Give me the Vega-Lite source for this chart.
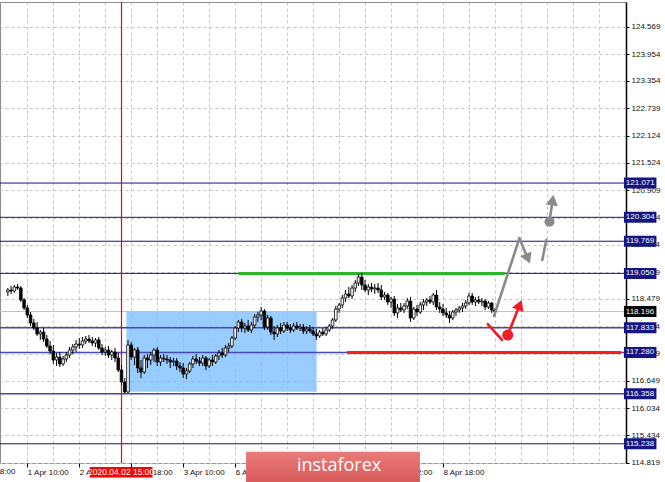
{
"$schema": "https://vega.github.io/schema/vega-lite/v6.json",
"width": 626, "height": 461,
"autosize": {"type": "none"},
"padding": {"left": 0, "top": 2, "right": 39, "bottom": 19},
"background": "white",
"config": {"view": {"stroke": "#8c8c8c", "strokeWidth": 1}, "text": {"font": "Liberation Sans"},
 "axisX": {"orient": "bottom", "title": null,
  "grid": true, "gridColor": "#c4c4c4", "gridDash": [3,3], "gridWidth": 1, "domain": false,
  "tickSize": 4, "tickColor": "#000",
  "labelAlign": "left", "labelBaseline": "top", "labelPadding": 1, "labelFlush": false, "labelOverlap": false,
  "labelFont": "Liberation Sans", "labelFontSize": 8, "labelColor": "#111"},
 "axisY": {"orient": "right", "title": null,
  "grid": true, "gridColor": "#c4c4c4", "gridDash": [3,3], "gridWidth": 1,
  "domain": true, "domainColor": "#000", "domainWidth": 1.5, "tickSize": 3, "tickColor": "#000",
  "labelPadding": 2, "labelFlush": false, "labelOverlap": false, "labelBaseline": "middle",
  "labelFont": "Liberation Sans", "labelFontSize": 8, "labelColor": "#111"}
},
"datasets": {
"bars": [
{"i":-6,"o":118.634,"h":118.723,"l":118.544,"c":118.678},
{"i":-5,"o":118.678,"h":118.768,"l":118.589,"c":118.656},
{"i":-4,"o":118.656,"h":118.790,"l":118.611,"c":118.745},
{"i":-3,"o":118.745,"h":118.812,"l":118.678,"c":118.723},
{"i":-2,"o":118.723,"h":118.768,"l":118.410,"c":118.455},
{"i":-1,"o":118.455,"h":118.499,"l":118.231,"c":118.276},
{"i":0,"o":118.276,"h":118.343,"l":118.052,"c":118.119},
{"i":1,"o":118.119,"h":118.186,"l":117.873,"c":117.940},
{"i":2,"o":117.940,"h":118.029,"l":117.783,"c":117.828},
{"i":3,"o":117.828,"h":117.962,"l":117.649,"c":117.694},
{"i":4,"o":117.694,"h":117.783,"l":117.560,"c":117.738},
{"i":5,"o":117.738,"h":117.828,"l":117.515,"c":117.582},
{"i":6,"o":117.582,"h":117.671,"l":117.381,"c":117.425},
{"i":7,"o":117.425,"h":117.537,"l":117.246,"c":117.313},
{"i":8,"o":117.313,"h":117.448,"l":117.023,"c":117.112},
{"i":9,"o":117.112,"h":117.269,"l":116.978,"c":117.179},
{"i":10,"o":117.179,"h":117.291,"l":116.955,"c":117.023},
{"i":11,"o":117.023,"h":117.202,"l":116.978,"c":117.134},
{"i":12,"o":117.134,"h":117.291,"l":117.067,"c":117.224},
{"i":13,"o":117.224,"h":117.403,"l":117.157,"c":117.336},
{"i":14,"o":117.336,"h":117.470,"l":117.246,"c":117.403},
{"i":15,"o":117.403,"h":117.560,"l":117.291,"c":117.470},
{"i":16,"o":117.470,"h":117.604,"l":117.358,"c":117.448},
{"i":17,"o":117.448,"h":117.627,"l":117.381,"c":117.537},
{"i":18,"o":117.537,"h":117.649,"l":117.470,"c":117.582},
{"i":19,"o":117.582,"h":117.671,"l":117.492,"c":117.537},
{"i":20,"o":117.537,"h":117.627,"l":117.425,"c":117.492},
{"i":21,"o":117.492,"h":117.604,"l":117.403,"c":117.560},
{"i":22,"o":117.560,"h":117.627,"l":117.336,"c":117.381},
{"i":23,"o":117.381,"h":117.470,"l":117.224,"c":117.291},
{"i":24,"o":117.291,"h":117.403,"l":117.202,"c":117.336},
{"i":25,"o":117.336,"h":117.425,"l":117.157,"c":117.224},
{"i":26,"o":117.224,"h":117.336,"l":117.112,"c":117.291},
{"i":27,"o":117.291,"h":117.381,"l":117.067,"c":117.157},
{"i":28,"o":117.157,"h":117.269,"l":116.843,"c":116.888},
{"i":29,"o":116.888,"h":117.000,"l":116.552,"c":116.620},
{"i":30,"o":116.620,"h":116.709,"l":116.362,"c":116.396},
{"i":31,"o":116.396,"h":117.560,"l":116.373,"c":117.448},
{"i":32,"o":117.448,"h":117.515,"l":117.112,"c":117.179},
{"i":33,"o":117.179,"h":117.381,"l":117.000,"c":117.336},
{"i":34,"o":117.336,"h":117.403,"l":116.821,"c":116.933},
{"i":35,"o":116.933,"h":117.112,"l":116.709,"c":116.843},
{"i":36,"o":116.843,"h":117.224,"l":116.799,"c":117.157},
{"i":37,"o":117.157,"h":117.246,"l":116.933,"c":117.112},
{"i":38,"o":117.112,"h":117.291,"l":117.000,"c":117.224},
{"i":39,"o":117.224,"h":117.381,"l":117.067,"c":117.336},
{"i":40,"o":117.336,"h":117.403,"l":116.978,"c":117.067},
{"i":41,"o":117.067,"h":117.224,"l":116.978,"c":117.157},
{"i":42,"o":117.157,"h":117.246,"l":117.067,"c":117.134},
{"i":43,"o":117.134,"h":117.224,"l":117.023,"c":117.112},
{"i":44,"o":117.112,"h":117.179,"l":116.933,"c":117.067},
{"i":45,"o":117.067,"h":117.157,"l":116.978,"c":117.090},
{"i":46,"o":117.090,"h":117.157,"l":116.888,"c":116.978},
{"i":47,"o":116.978,"h":117.067,"l":116.843,"c":116.933},
{"i":48,"o":116.933,"h":117.045,"l":116.709,"c":116.799},
{"i":49,"o":116.799,"h":116.933,"l":116.687,"c":116.866},
{"i":50,"o":116.866,"h":117.067,"l":116.821,"c":117.023},
{"i":51,"o":117.023,"h":117.202,"l":116.933,"c":117.134},
{"i":52,"o":117.134,"h":117.246,"l":117.023,"c":117.090},
{"i":53,"o":117.090,"h":117.179,"l":116.978,"c":117.045},
{"i":54,"o":117.045,"h":117.224,"l":116.978,"c":117.157},
{"i":55,"o":117.157,"h":117.202,"l":116.888,"c":116.978},
{"i":56,"o":116.978,"h":117.157,"l":116.933,"c":117.112},
{"i":57,"o":117.112,"h":117.224,"l":116.978,"c":117.067},
{"i":58,"o":117.067,"h":117.246,"l":117.023,"c":117.202},
{"i":59,"o":117.202,"h":117.336,"l":117.112,"c":117.269},
{"i":60,"o":117.269,"h":117.381,"l":117.157,"c":117.224},
{"i":61,"o":117.224,"h":117.448,"l":117.179,"c":117.381},
{"i":62,"o":117.381,"h":117.492,"l":117.291,"c":117.425},
{"i":63,"o":117.425,"h":117.649,"l":117.381,"c":117.604},
{"i":64,"o":117.604,"h":117.873,"l":117.560,"c":117.828},
{"i":65,"o":117.828,"h":118.007,"l":117.738,"c":117.962},
{"i":66,"o":117.962,"h":118.029,"l":117.738,"c":117.828},
{"i":67,"o":117.828,"h":117.940,"l":117.716,"c":117.873},
{"i":68,"o":117.873,"h":118.007,"l":117.738,"c":117.783},
{"i":69,"o":117.783,"h":117.962,"l":117.716,"c":117.895},
{"i":70,"o":117.895,"h":118.141,"l":117.828,"c":118.074},
{"i":71,"o":118.074,"h":118.186,"l":117.962,"c":118.119},
{"i":72,"o":118.119,"h":118.298,"l":118.007,"c":118.208},
{"i":73,"o":118.208,"h":118.253,"l":117.783,"c":117.850},
{"i":74,"o":117.850,"h":118.119,"l":117.783,"c":118.052},
{"i":75,"o":118.052,"h":118.096,"l":117.671,"c":117.738},
{"i":76,"o":117.738,"h":117.873,"l":117.560,"c":117.694},
{"i":77,"o":117.694,"h":117.895,"l":117.627,"c":117.828},
{"i":78,"o":117.828,"h":117.940,"l":117.694,"c":117.761},
{"i":79,"o":117.761,"h":117.962,"l":117.716,"c":117.895},
{"i":80,"o":117.895,"h":117.962,"l":117.761,"c":117.828},
{"i":81,"o":117.828,"h":117.917,"l":117.716,"c":117.783},
{"i":82,"o":117.783,"h":117.940,"l":117.738,"c":117.873},
{"i":83,"o":117.873,"h":117.962,"l":117.783,"c":117.828},
{"i":84,"o":117.828,"h":117.917,"l":117.761,"c":117.850},
{"i":85,"o":117.850,"h":117.917,"l":117.694,"c":117.761},
{"i":86,"o":117.761,"h":117.873,"l":117.694,"c":117.806},
{"i":87,"o":117.806,"h":117.895,"l":117.716,"c":117.761},
{"i":88,"o":117.761,"h":117.850,"l":117.649,"c":117.694},
{"i":89,"o":117.694,"h":117.806,"l":117.560,"c":117.649},
{"i":90,"o":117.649,"h":117.783,"l":117.604,"c":117.738},
{"i":91,"o":117.738,"h":117.828,"l":117.649,"c":117.694},
{"i":92,"o":117.694,"h":117.850,"l":117.649,"c":117.783},
{"i":93,"o":117.783,"h":117.917,"l":117.738,"c":117.873},
{"i":94,"o":117.873,"h":118.052,"l":117.806,"c":118.007},
{"i":95,"o":118.007,"h":118.320,"l":117.962,"c":118.253},
{"i":96,"o":118.253,"h":118.387,"l":118.164,"c":118.343},
{"i":97,"o":118.343,"h":118.566,"l":118.276,"c":118.499},
{"i":98,"o":118.499,"h":118.678,"l":118.410,"c":118.589},
{"i":99,"o":118.589,"h":118.745,"l":118.499,"c":118.544},
{"i":100,"o":118.544,"h":118.790,"l":118.477,"c":118.723},
{"i":101,"o":118.723,"h":118.902,"l":118.634,"c":118.835},
{"i":102,"o":118.835,"h":119.036,"l":118.768,"c":118.969},
{"i":103,"o":118.969,"h":119.058,"l":118.678,"c":118.790},
{"i":104,"o":118.790,"h":118.902,"l":118.634,"c":118.678},
{"i":105,"o":118.678,"h":118.812,"l":118.566,"c":118.745},
{"i":106,"o":118.745,"h":118.835,"l":118.634,"c":118.701},
{"i":107,"o":118.701,"h":118.812,"l":118.589,"c":118.723},
{"i":108,"o":118.723,"h":118.835,"l":118.611,"c":118.678},
{"i":109,"o":118.678,"h":118.790,"l":118.455,"c":118.522},
{"i":110,"o":118.522,"h":118.634,"l":118.455,"c":118.566},
{"i":111,"o":118.566,"h":118.611,"l":118.343,"c":118.410},
{"i":112,"o":118.410,"h":118.522,"l":118.276,"c":118.477},
{"i":113,"o":118.477,"h":118.544,"l":118.096,"c":118.164},
{"i":114,"o":118.164,"h":118.365,"l":118.052,"c":118.276},
{"i":115,"o":118.276,"h":118.387,"l":118.186,"c":118.231},
{"i":116,"o":118.231,"h":118.387,"l":118.164,"c":118.320},
{"i":117,"o":118.320,"h":118.499,"l":118.253,"c":118.432},
{"i":118,"o":118.432,"h":118.522,"l":117.962,"c":118.052},
{"i":119,"o":118.052,"h":118.298,"l":118.007,"c":118.253},
{"i":120,"o":118.253,"h":118.343,"l":118.096,"c":118.186},
{"i":121,"o":118.186,"h":118.410,"l":118.141,"c":118.343},
{"i":122,"o":118.343,"h":118.477,"l":118.231,"c":118.410},
{"i":123,"o":118.410,"h":118.499,"l":118.320,"c":118.455},
{"i":124,"o":118.455,"h":118.544,"l":118.365,"c":118.410},
{"i":125,"o":118.410,"h":118.611,"l":118.343,"c":118.566},
{"i":126,"o":118.566,"h":118.678,"l":118.231,"c":118.298},
{"i":127,"o":118.298,"h":118.410,"l":118.164,"c":118.253},
{"i":128,"o":118.253,"h":118.365,"l":118.096,"c":118.164},
{"i":129,"o":118.164,"h":118.276,"l":118.052,"c":118.119},
{"i":130,"o":118.119,"h":118.208,"l":117.940,"c":118.052},
{"i":131,"o":118.052,"h":118.231,"l":118.007,"c":118.186},
{"i":132,"o":118.186,"h":118.276,"l":118.096,"c":118.231},
{"i":133,"o":118.231,"h":118.320,"l":118.164,"c":118.276},
{"i":134,"o":118.276,"h":118.387,"l":118.186,"c":118.320},
{"i":135,"o":118.320,"h":118.455,"l":118.253,"c":118.387},
{"i":136,"o":118.387,"h":118.611,"l":118.343,"c":118.544},
{"i":137,"o":118.544,"h":118.611,"l":118.343,"c":118.410},
{"i":138,"o":118.410,"h":118.522,"l":118.320,"c":118.455},
{"i":139,"o":118.455,"h":118.544,"l":118.365,"c":118.410},
{"i":140,"o":118.410,"h":118.499,"l":118.320,"c":118.432},
{"i":141,"o":118.432,"h":118.477,"l":118.231,"c":118.298},
{"i":142,"o":118.298,"h":118.432,"l":118.253,"c":118.387},
{"i":143,"o":118.387,"h":118.410,"l":118.164,"c":118.231},
{"i":144,"o":118.231,"h":118.276,"l":118.096,"c":118.196}
],
"navyLevels": [{"v":121.071},{"v":120.304},{"v":119.769},{"v":119.050},{"v":115.238}],
"blueLevels": [{"v":117.833},{"v":117.280},{"v":116.358}],
"priceLabels": [{"v":121.071},{"v":120.304},{"v":119.769},{"v":119.050},{"v":117.833},{"v":117.280},{"v":116.358},{"v":115.238}],
"graySegs": [
{"a":143.73,"pa":118.097,"b":151.52,"pb":119.835},
{"a":151.52,"pa":119.835,"b":154.12,"pb":119.383},
{"a":159.79,"pa":119.797,"b":158.58,"pb":119.349},
{"a":160.79,"pa":120.206,"b":161.76,"pb":120.689}
],
"redSegs": [
{"a":141.82,"pa":117.917,"b":146.15,"pb":117.560},
{"a":147.94,"pa":117.671,"b":151.64,"pb":118.347}
],
"grayHeads": [{"i":154.15,"p":119.378,"dir":157},{"i":161.76,"p":120.689,"dir":8.5}],
"redHeads": [{"i":151.64,"p":118.347,"dir":21.8}]
},
"layer": [
{
"data": {"values": [{"i0":30.5,"i1":89.1,"p0":116.40,"p1":118.20}]},
"mark": {"type": "rect", "fill": "#80bfff", "opacity": 0.8},
"encoding": {
"x": {"field": "i0", "type": "quantitative", "scale": {"domain": [-6.879, 182.82], "nice": false, "zero": false},
 "axis": {"title": null, "tickCount": 100, "labelOverlap": false, "labelFlush": false, "values": [0,8,16,24,32,40,48,56,64,72,80,88,96,104,112,120,128,136,144,152,160,168,176],
  "tickOpacity": {"condition": {"test": "datum.value % 16 == 0 && datum.value <= 128", "value": 1}, "value": 0},
  "labelExpr": "datum.value == 0 ? '1 Apr 10:00' : datum.value == 16 ? '2 Apr 02:00' : datum.value == 32 ? '2 Apr 18:00' : datum.value == 48 ? '3 Apr 10:00' : datum.value == 64 ? '6 Apr 02:00' : datum.value == 80 ? '6 Apr 18:00' : datum.value == 96 ? '7 Apr 10:00' : datum.value == 112 ? '8 Apr 02:00' : datum.value == 128 ? '8 Apr 18:00' : ''"}},
"x2": {"field": "i1"},
"y": {"field": "p0", "type": "quantitative", "scale": {"domain": [114.808, 125.121], "nice": false, "zero": false},
 "axis": {"title": null, "orient": "right", "tickCount": 100, "labelOverlap": false, "labelFlush": false, "values": [124.569,123.954,123.354,122.739,122.124,121.524,120.909,120.294,119.694,119.079,118.479,117.864,117.249,116.649,116.034,115.434,114.819], "format": ".3f"}},
"y2": {"field": "p1"}
}
},
{
"data": {"name": "navyLevels"},
"mark": {"type": "rule", "color": "#14147e", "strokeWidth": 1},
"encoding": {"y": {"field": "v", "type": "quantitative", "scale": {"domain": [114.808, 125.121], "nice": false, "zero": false}}}
},
{
"data": {"name": "blueLevels"},
"mark": {"type": "rule", "color": "#4848b4", "strokeWidth": 1.6},
"encoding": {"y": {"field": "v", "type": "quantitative", "scale": {"domain": [114.808, 125.121], "nice": false, "zero": false}}}
},
{
"data": {"values": [{"v": 118.196}]},
"mark": {"type": "rule", "color": "#c0c0c0", "strokeWidth": 1},
"encoding": {"y": {"field": "v", "type": "quantitative", "scale": {"domain": [114.808, 125.121], "nice": false, "zero": false}}}
},
{
"data": {"values": [{"i": 29}]},
"mark": {"type": "rule", "stroke": "#ff0000", "color": "#ff0000", "strokeWidth": 1.2, "opacity": 1},
"encoding": {"x": {"field": "i", "type": "quantitative", "scale": {"domain": [-6.879, 182.82], "nice": false, "zero": false}}}
},
{
"data": {"values": [{"i0": 65, "i1": 147, "v": 119.05}]},
"mark": {"type": "rule", "color": "#2bb52b", "strokeWidth": 3},
"encoding": {
"x": {"field": "i0", "type": "quantitative", "scale": {"domain": [-6.879, 182.82], "nice": false, "zero": false}},
"x2": {"field": "i1"},
"y": {"field": "v", "type": "quantitative", "scale": {"domain": [114.808, 125.121], "nice": false, "zero": false}}}
},
{
"data": {"values": [{"i0": 98.5, "i1": 182.82, "v": 117.28}]},
"mark": {"type": "rule", "color": "#ff1c1c", "strokeWidth": 3},
"encoding": {
"x": {"field": "i0", "type": "quantitative", "scale": {"domain": [-6.879, 182.82], "nice": false, "zero": false}},
"x2": {"field": "i1"},
"y": {"field": "v", "type": "quantitative", "scale": {"domain": [114.808, 125.121], "nice": false, "zero": false}}}
},
{
"data": {"name": "bars"},
"mark": {"type": "rule", "color": "#000", "strokeWidth": 1},
"encoding": {
"x": {"field": "i", "type": "quantitative", "scale": {"domain": [-6.879, 182.82], "nice": false, "zero": false}},
"y": {"field": "l", "type": "quantitative", "scale": {"domain": [114.808, 125.121], "nice": false, "zero": false}},
"y2": {"field": "h"}}
},
{
"data": {"name": "bars"},
"mark": {"type": "bar", "width": 2.6, "stroke": "#000", "strokeWidth": 0.8},
"encoding": {
"x": {"field": "i", "type": "quantitative", "scale": {"domain": [-6.879, 182.82], "nice": false, "zero": false}},
"y": {"field": "o", "type": "quantitative", "scale": {"domain": [114.808, 125.121], "nice": false, "zero": false}},
"y2": {"field": "c"},
"fill": {"condition": {"test": "datum.c < datum.o", "value": "#000"}, "value": "#fff"}}
},
{
"data": {"name": "graySegs"},
"mark": {"type": "rule", "color": "#8a8a8a", "strokeWidth": 2.6, "strokeCap": "round"},
"encoding": {
"x": {"field": "a", "type": "quantitative", "scale": {"domain": [-6.879, 182.82], "nice": false, "zero": false}},
"x2": {"field": "b"},
"y": {"field": "pa", "type": "quantitative", "scale": {"domain": [114.808, 125.121], "nice": false, "zero": false}},
"y2": {"field": "pb"}}
},
{
"data": {"name": "redSegs"},
"mark": {"type": "rule", "color": "#f01c24", "strokeWidth": 2.6, "strokeCap": "round"},
"encoding": {
"x": {"field": "a", "type": "quantitative", "scale": {"domain": [-6.879, 182.82], "nice": false, "zero": false}},
"x2": {"field": "b"},
"y": {"field": "pa", "type": "quantitative", "scale": {"domain": [114.808, 125.121], "nice": false, "zero": false}},
"y2": {"field": "pb"}}
},
{
"data": {"values": [{"i": 160.79, "p": 120.206}]},
"mark": {"type": "point", "shape": "circle", "filled": true, "color": "#8a8a8a", "opacity": 1, "size": 100},
"encoding": {
"x": {"field": "i", "type": "quantitative", "scale": {"domain": [-6.879, 182.82], "nice": false, "zero": false}},
"y": {"field": "p", "type": "quantitative", "scale": {"domain": [114.808, 125.121], "nice": false, "zero": false}}}
},
{
"data": {"values": [{"i": 147.94, "p": 117.671}]},
"mark": {"type": "point", "shape": "circle", "filled": true, "color": "#f01c24", "opacity": 1, "size": 121},
"encoding": {
"x": {"field": "i", "type": "quantitative", "scale": {"domain": [-6.879, 182.82], "nice": false, "zero": false}},
"y": {"field": "p", "type": "quantitative", "scale": {"domain": [114.808, 125.121], "nice": false, "zero": false}}}
},
{
"data": {"name": "grayHeads"},
"mark": {"type": "point", "shape": "triangle-up", "filled": true, "color": "#8a8a8a", "opacity": 1, "size": 150},
"encoding": {
"x": {"field": "i", "type": "quantitative", "scale": {"domain": [-6.879, 182.82], "nice": false, "zero": false}},
"y": {"field": "p", "type": "quantitative", "scale": {"domain": [114.808, 125.121], "nice": false, "zero": false}},
"angle": {"field": "dir", "type": "quantitative", "scale": null}}
},
{
"data": {"name": "redHeads"},
"mark": {"type": "point", "shape": "triangle-up", "filled": true, "color": "#f01c24", "opacity": 1, "size": 150},
"encoding": {
"x": {"field": "i", "type": "quantitative", "scale": {"domain": [-6.879, 182.82], "nice": false, "zero": false}},
"y": {"field": "p", "type": "quantitative", "scale": {"domain": [114.808, 125.121], "nice": false, "zero": false}},
"angle": {"field": "dir", "type": "quantitative", "scale": null}}
},
{
"data": {"name": "priceLabels"},
"mark": {"type": "rect", "fill": "#141482", "yOffset": -5.5, "y2Offset": 5.5},
"encoding": {
"x": {"datum": 183.73, "type": "quantitative", "scale": {"domain": [-6.879, 182.82], "nice": false, "zero": false}},
"x2": {"datum": 193.73},
"y": {"field": "v", "type": "quantitative", "scale": {"domain": [114.808, 125.121], "nice": false, "zero": false}},
"y2": {"field": "v"}}
},
{
"data": {"values": [{"v": 118.196}]},
"mark": {"type": "rect", "fill": "#000000", "yOffset": -5.5, "y2Offset": 5.5},
"encoding": {
"x": {"datum": 183.73, "type": "quantitative", "scale": {"domain": [-6.879, 182.82], "nice": false, "zero": false}},
"x2": {"datum": 193.73},
"y": {"field": "v", "type": "quantitative", "scale": {"domain": [114.808, 125.121], "nice": false, "zero": false}},
"y2": {"field": "v"}}
},
{
"data": {"values": [{"v":121.071},{"v":120.304},{"v":119.769},{"v":119.050},{"v":118.196},{"v":117.833},{"v":117.280},{"v":116.358},{"v":115.238}]},
"mark": {"type": "text", "color": "#ffffff", "align": "left", "baseline": "middle", "font": "Liberation Sans", "fontSize": 8},
"encoding": {
"x": {"datum": 184.3, "type": "quantitative", "scale": {"domain": [-6.879, 182.82], "nice": false, "zero": false}},
"y": {"field": "v", "type": "quantitative", "scale": {"domain": [114.808, 125.121], "nice": false, "zero": false}},
"text": {"field": "v", "type": "quantitative", "format": ".3f"}}
},
{
"data": {"values": [{}]},
"mark": {"type": "rect", "fill": "#ff0000"},
"encoding": {
"x": {"datum": 19.2, "type": "quantitative", "scale": {"domain": [-6.879, 182.82], "nice": false, "zero": false}},
"x2": {"datum": 38.55},
"y": {"datum": 114.718, "type": "quantitative", "scale": {"domain": [114.808, 125.121], "nice": false, "zero": false}},
"y2": {"datum": 114.484}}
},
{
"data": {"values": [{}]},
"mark": {"type": "text", "color": "#ffffff", "align": "center", "baseline": "middle", "font": "Liberation Sans", "fontSize": 8.5},
"encoding": {
"x": {"datum": 28.9, "type": "quantitative", "scale": {"domain": [-6.879, 182.82], "nice": false, "zero": false}},
"y": {"datum": 114.601, "type": "quantitative", "scale": {"domain": [114.808, 125.121], "nice": false, "zero": false}},
"text": {"value": "2020.04.02 15:00"}}
},
{
"data": {"values": [{}]},
"mark": {"type": "text", "color": "#111", "align": "left", "baseline": "top", "font": "Liberation Sans", "fontSize": 8},
"encoding": {
"x": {"datum": -18.2, "type": "quantitative", "scale": {"domain": [-6.879, 182.82], "nice": false, "zero": false}},
"y": {"datum": 114.696, "type": "quantitative", "scale": {"domain": [114.808, 125.121], "nice": false, "zero": false}},
"text": {"value": "31 Mar 18:00"}}
},
{
"data": {"values": [{}]},
"mark": {"type": "rect", "fill": {"gradient": "linear", "x1": 0, "y1": 0, "x2": 0, "y2": 1, "stops": [{"offset": 0, "color": "#ea7b7b"}, {"offset": 1, "color": "#d95b5b"}]}},
"encoding": {
"x": {"datum": 67.36, "type": "quantitative", "scale": {"domain": [-6.879, 182.82], "nice": false, "zero": false}},
"x2": {"datum": 120.9},
"y": {"datum": 115.061, "type": "quantitative", "scale": {"domain": [114.808, 125.121], "nice": false, "zero": false}},
"y2": {"datum": 114.38}}
},
{
"data": {"values": [{}]},
"mark": {"type": "text", "color": "#ffffff", "align": "center", "baseline": "middle", "font": "Open Sans", "fontSize": 18},
"encoding": {
"x": {"datum": 96.0, "type": "quantitative", "scale": {"domain": [-6.879, 182.82], "nice": false, "zero": false}},
"y": {"datum": 114.73, "type": "quantitative", "scale": {"domain": [114.808, 125.121], "nice": false, "zero": false}},
"text": {"value": "instaforex"}}
}
]
}
